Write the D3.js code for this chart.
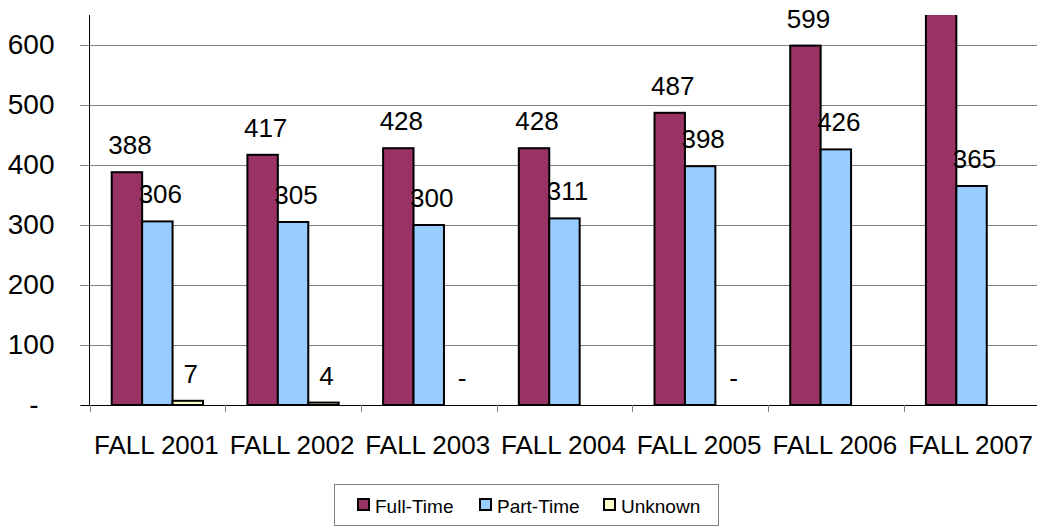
<!DOCTYPE html>
<html>
<head>
<meta charset="utf-8">
<script src="https://cdn.jsdelivr.net/npm/d3@7"></script>
<style>
  body { margin: 0; background: #fff; }
</style>
</head>
<body>
<div id="chart"></div>
<script>
// data
var categories = ["FALL 2001", "FALL 2002", "FALL 2003", "FALL 2004", "FALL 2005", "FALL 2006", "FALL 2007"];
var seriesNames = ["Full-Time", "Part-Time", "Unknown"];
var fullTime = [388, 417, 428, 428, 487, 599, 700];   // 2007 runs off the top, value estimated
var partTime = [306, 305, 300, 311, 398, 426, 365];
var unknown = [7, 4, 0, null, 0, null, null];
var yTicks = [0, 100, 200, 300, 400, 500, 600];
var colors = ["#993366", "#99CCFF", "#FFFFCC"];

var width = 1037, height = 527;
var font = "Arial, 'Liberation Sans', sans-serif";

var svg = d3.select("#chart")
    .append("svg")
    .attr("width", width)
    .attr("height", height)
    .attr("font-family", font);

var x0 = 89.5, plotTop = 15, plotBottom = 405;
var step = 135.7;

var x = d3.scaleBand()
    .domain(categories)
    .range([x0, x0 + step * categories.length]);
var xs = d3.scaleBand()
    .domain(seriesNames)
    .range([0, x.bandwidth()])
    .paddingOuter(0.73);
var y = d3.scaleLinear()
    .domain([0, 650])
    .range([plotBottom, plotTop]);

var rows = [fullTime, partTime, unknown];
var bars = [];
categories.forEach(function(c, i){
    seriesNames.forEach(function(s, j){
        bars.push({cat: c, series: s, idx: j, value: rows[j][i]});
    });
});

// gridlines
svg.append("g")
    .selectAll("line")
    .data(yTicks.filter(d => d > 0))
    .enter()
    .append("line")
    .attr("x1", x0 - 9)
    .attr("x2", width)
    .attr("y1", d => Math.round(y(d)) + 0.5)
    .attr("y2", d => Math.round(y(d)) + 0.5)
    .attr("stroke", "#808080")
    .attr("stroke-width", 1);

svg.append("clipPath")
    .attr("id", "plotclip")
    .append("rect")
    .attr("x", x0)
    .attr("y", plotTop)
    .attr("width", width - x0)
    .attr("height", plotBottom - plotTop + 2);

svg.append("g")
    .attr("clip-path", "url(#plotclip)")
    .selectAll("rect")
    .data(bars.filter(d => d.value !== null && d.value > 0))
    .enter()
    .append("rect")
    .attr("x", d => x(d.cat) + xs(d.series))
    .attr("y", d => y(d.value))
    .attr("width", xs.bandwidth())
    .attr("height", d => plotBottom - y(d.value))
    .attr("fill", d => colors[d.idx])
    .attr("stroke", "#000")
    .attr("stroke-width", 2);

// data labels
svg.append("g")
    .attr("font-size", 26)
    .attr("text-anchor", "middle")
    .attr("fill", "#000")
    .selectAll("text")
    .data(bars.filter(d => d.value !== null && y(d.value) - 18 > 0))
    .enter()
    .append("text")
    .attr("x", d => x(d.cat) + xs(d.series) + xs.bandwidth() / 2 + 3)
    .attr("y", d => y(d.value) - 18)
    .text(d => d.value === 0 ? "-" : d.value);

// y axis
var yAxis = svg.append("g")
    .attr("transform", "translate(" + x0 + ",0)")
    .call(d3.axisLeft(y)
        .tickValues(yTicks)
        .tickSize(9)
        .tickPadding(26)
        .tickFormat(d => d === 0 ? "-" : d));
yAxis.select(".domain").attr("d", "M0," + plotTop + "V" + plotBottom).attr("stroke", "#000");
yAxis.selectAll(".tick line").attr("stroke", "#808080");
yAxis.selectAll("text")
    .attr("font-size", 28)
    .attr("font-family", font)
    .attr("fill", "#000");
yAxis.selectAll(".tick").filter(d => d === 0).select("text").attr("dx", -16);

// x axis
var xAxis = svg.append("g");
xAxis.append("line")
    .attr("x1", x0 - 9)
    .attr("x2", width)
    .attr("y1", plotBottom + 0.5)
    .attr("y2", plotBottom + 0.5)
    .attr("stroke", "#000");
xAxis.selectAll("line.tk")
    .data(categories)
    .enter()
    .append("line")
    .attr("class", "tk")
    .attr("x1", d => Math.round(x(d)) + 0.5)
    .attr("x2", d => Math.round(x(d)) + 0.5)
    .attr("y1", plotBottom)
    .attr("y2", plotBottom + 7)
    .attr("stroke", "#808080");
xAxis.selectAll("text")
    .data(categories)
    .enter()
    .append("text")
    .attr("x", d => x(d) + x.bandwidth() / 2 - 1)
    .attr("y", 454)
    .attr("text-anchor", "middle")
    .attr("font-size", 26)
    .attr("fill", "#000")
    .text(d => d);

// legend
var legend = svg.append("g");
legend.append("rect")
    .attr("x", 334.5)
    .attr("y", 484.5)
    .attr("width", 384)
    .attr("height", 41)
    .attr("fill", "#fff")
    .attr("stroke", "#808080");
var legendX = [358, 480, 604];
var item = legend.selectAll("g")
    .data(seriesNames)
    .enter()
    .append("g")
    .attr("transform", (d, i) => "translate(" + legendX[i] + ",499)");
item.append("rect")
    .attr("width", 11)
    .attr("height", 11)
    .attr("fill", (d, i) => colors[i])
    .attr("stroke", "#000")
    .attr("stroke-width", 2);
item.append("text")
    .attr("x", 17)
    .attr("y", 14)
    .attr("font-size", 19)
    .attr("fill", "#000")
    .text(d => d);
</script>
</body>
</html>
